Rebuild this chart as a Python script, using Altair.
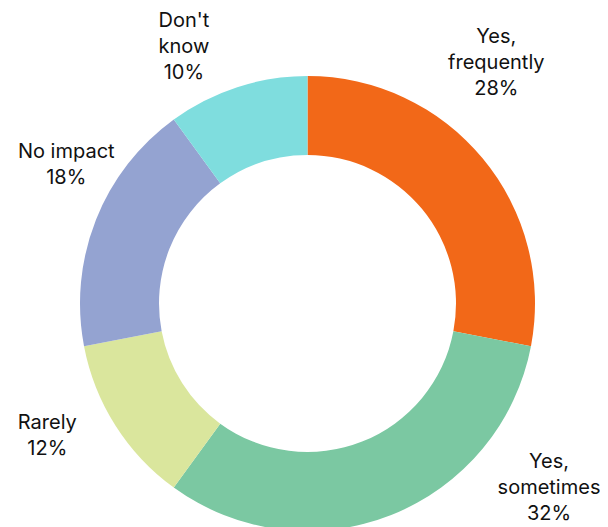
import math
import altair as alt
import pandas as pd

# ---- data ----
categories = ["Yes, frequently", "Yes, sometimes", "Rarely", "No impact", "Don't know"]
label_names = ["Yes,\nfrequently", "Yes,\nsometimes", "Rarely", "No impact", "Don't\nknow"]
values = [28, 32, 12, 18, 10]
colors = ["#F26818", "#7BC8A2", "#DAE69D", "#94A3D1", "#7FDDDE"]

df = pd.DataFrame({
    "category": categories,
    "value": values,
    "order": list(range(len(categories))),
    "label": [f"{n}\n{v}%" for n, v in zip(label_names, values)],
})

# ---- layout / style ----
CX, CY = 299.5, 295.5
R_OUT, R_IN = 227.5, 148.5
LINE_H = 26
# per-label placement: (radius, theta offset in degrees)
label_style = {
    "Yes, frequently": (306, -12.3),
    "Yes, sometimes": (304, -31.0),
    "Rarely": (292, 5.4),
    "No impact": (278, 8.2),
    "Don't know": (285, -7.7),
}

theta_scale = alt.Scale(domain=[0, 100], range=[0, 2 * math.pi])

arcs = alt.Chart(df).mark_arc(
    outerRadius=R_OUT, innerRadius=R_IN, strokeWidth=0
).encode(
    theta=alt.Theta("value:Q", stack=True, scale=theta_scale),
    order=alt.Order("order:Q"),
    color=alt.Color("category:N", scale=alt.Scale(domain=categories, range=colors), legend=None),
    x=alt.value(CX),
    y=alt.value(CY),
)

text_base = alt.Chart(df).transform_window(
    cum="sum(value)", sort=[alt.SortField("order")]
).transform_calculate(
    mid="datum.cum - datum.value / 2"
)

texts = []
for cat, name in zip(categories, label_names):
    r, off = label_style[cat]
    n_lines = name.count("\n") + 2
    t = text_base.transform_filter(
        alt.datum.category == cat
    ).mark_text(
        radius=r,
        thetaOffset=math.radians(off),
        lineBreak="\n",
        font="Inter",
        fontSize=20,
        lineHeight=LINE_H,
        dy=-(n_lines - 1) * LINE_H / 2,
        color="#111111",
        align="center",
        baseline="middle",
    ).encode(
        theta=alt.Theta("mid:Q", scale=theta_scale),
        text="label:N",
        x=alt.value(CX),
        y=alt.value(CY),
    )
    texts.append(t)

chart = alt.layer(arcs, *texts).properties(
    width=592, height=519, autosize="none", padding=0
).configure_view(strokeWidth=0)

chart.save("out.html", embed_options={"renderer": "svg", "actions": False})
